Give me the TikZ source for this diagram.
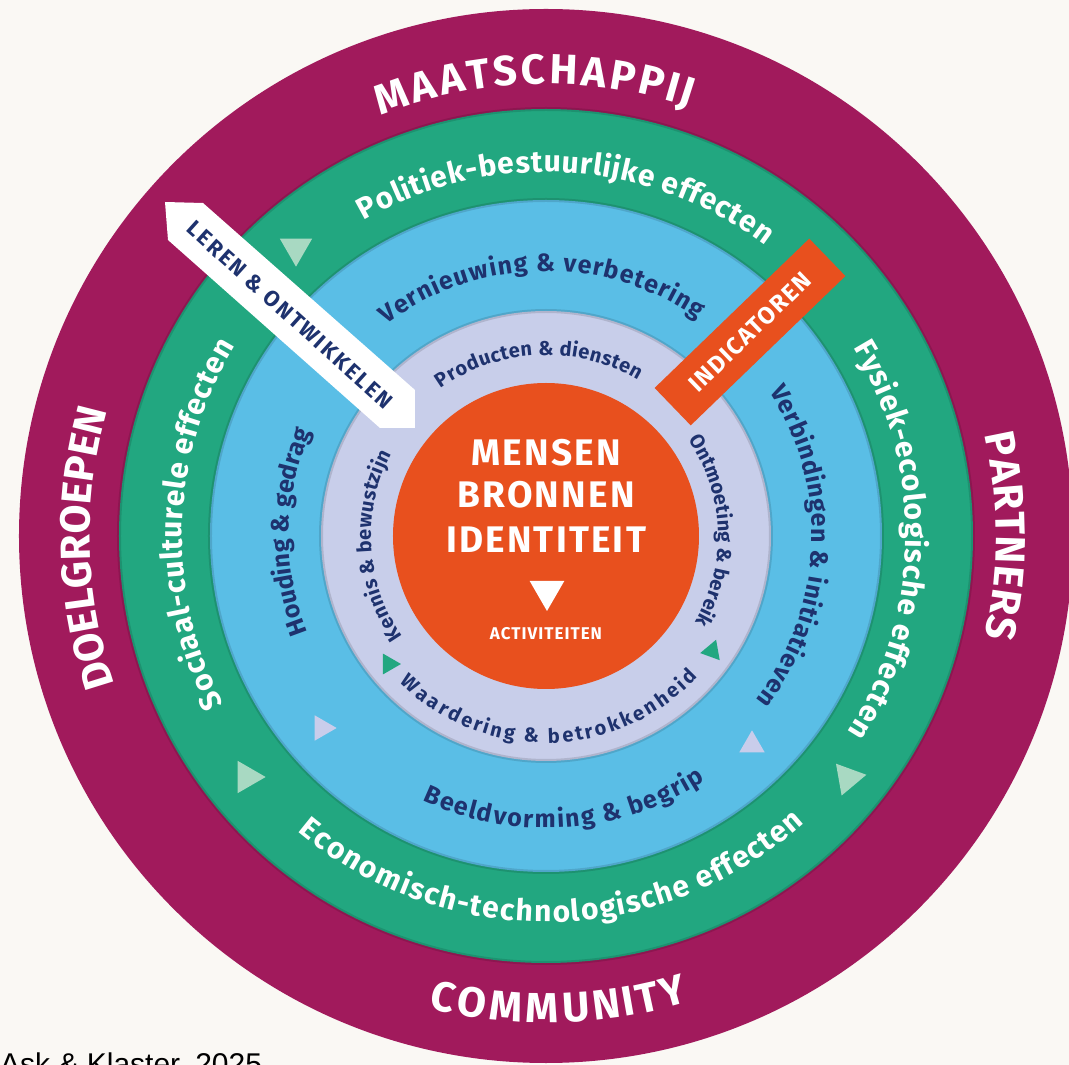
\documentclass[tikz,border=0pt]{standalone}
\usepackage{fontspec}
\setmainfont{Fira Sans}
\newfontfamily\trackfont[LetterSpace=6]{Fira Sans}
\newfontfamily\widefont[LetterSpace=10]{Fira Sans}
\newfontfamily\capfont{Liberation Sans}
\usetikzlibrary{decorations.text,shapes.geometric}

\definecolor{paper}{HTML}{FAF8F4}
\definecolor{ringmagenta}{HTML}{A11A5C}
\definecolor{ringgreen}{HTML}{22A780}
\definecolor{ringblue}{HTML}{5ABEE6}
\definecolor{ringlav}{HTML}{C8CEEA}
\definecolor{coreorange}{HTML}{E8501E}
\definecolor{navy}{HTML}{1E326E}
\definecolor{palemint}{HTML}{A8D9C2}
\definecolor{palelav}{HTML}{C9CDEB}

% text on a circle arc: radius, from, to, colour, size, text
\newcommand\ringlabel[6]{%
  \path[decorate, decoration={text effects along path, text={#6}, text align=center,
      text effects/.cd, text along path, fit text to path,
      characters={text=#4, anchor=base, inner sep=0pt, font=\bfseries\fontsize{#5}{#5}\selectfont}}]
    (#2:#1) arc[start angle=#2, end angle=#3, radius=#1];}

\tikzset{
  ringedge/.style={draw=black, opacity=.12, line width=4pt},
  tri/.style={isosceles triangle, isosceles triangle apex angle=60, inner sep=0pt, minimum height=#1, draw=none},
  coretext/.style={text=white, font=\trackfont\bfseries\fontsize{37}{40}\selectfont, inner sep=0pt}
}

\begin{document}
\begin{tikzpicture}[x=1pt, y=1pt]
\clip (-546,-529) rectangle (523,536);
\fill[paper] (-546,-529) rectangle (523,536);

% rings
\fill[ringmagenta] (0,0) circle[radius=527];
\fill[ringgreen] (0,0) circle[radius=427];
\fill[ringblue] (0,0) circle[radius=336];
\fill[ringlav] (0,0) circle[radius=225];
\foreach \r in {427,336,225}
  \draw[ringedge] (0,0) circle[radius=\r];

% small triangles
\node[tri=28, fill=palemint, rotate=-90] (tg1) at (-250,288) {};
\node[tri=28, fill=palemint] (tg2) at (-299,-241) {};
\node[tri=28, fill=palemint, rotate=10] (tg3) at (302,-242) {};
\node[tri=22, fill=palelav] (tb1) at (-224,-192) {};
\node[tri=22, fill=palelav, rotate=90] (tb2) at (206,-209) {};
\node[tri=18, fill=ringgreen] (tl1) at (-157,-128) {};
\node[tri=18, fill=ringgreen, rotate=70] (tl2) at (166,-115) {};

% outer ring
\ringlabel{452}{111.5}{71.5}{white}{42}{MAATSCHAPPIJ}
\ringlabel{456}{199}{164}{white}{42}{DOELGROEPEN}
\ringlabel{450}{13}{-13}{white}{42}{PARTNERS}
\ringlabel{487}{256}{287}{white}{42}{COMMUNITY}

% green ring
\ringlabel{364}{120}{53}{white}{30}{Politiek-bestuurlijke effecten}
\ringlabel{364}{207.5}{148.5}{white}{30}{Sociaal-culturele effecten}
\ringlabel{360}{31.5}{-33}{white}{30}{Fysiek-ecologische effecten}
\ringlabel{386}{230}{312}{white}{30}{Economisch-technologische effecten}

% blue ring
\ringlabel{265}{127}{55}{navy}{25}{Vernieuwing {\&} verbetering}
\ringlabel{257}{202}{156}{navy}{25}{Houding {\&} gedrag}
\ringlabel{266}{33}{-38}{navy}{25}{Verbindingen {\&} initiatieven}
\ringlabel{292}{245}{303}{navy}{25}{Beeldvorming {\&} begrip}

% lavender ring
\ringlabel{181}{125.5}{59.5}{navy}{20}{Producten {\&} diensten}
\ringlabel{175}{215}{152}{navy}{20}{Kennis {\&} bewustzijn}
\ringlabel{172}{34}{-30}{navy}{20}{Ontmoeting {\&} bereik}
\ringlabel{207}{225}{317}{navy}{20}{Waardering {\&} betrokkenheid}

% core
\node[circle, fill=coreorange, minimum size=306, inner sep=0pt] (core) at (0,0) {};
\node[coretext] (mensen) at (0,83) {MENSEN};
\node[coretext] (bronnen) at (0,41) {BRONNEN};
\node[coretext] (identiteit) at (0,-4) {IDENTITEIT};
\node[tri=30, fill=white, rotate=-90] (pijl) at (1,-55) {};
\node[coretext, font=\trackfont\bfseries\fontsize{17}{20}\selectfont] (activiteiten) at (0,-98) {ACTIVITEITEN};

% bands
\fill[white] (-381,334) -- (-343,333) -- (-131,146) -- (-131,108) -- (-166,108) -- (-378,296) -- cycle;
\node[rotate=-42, text=navy, font=\widefont\bfseries\fontsize{22}{24}\selectfont] (leren) at (-256,221) {LEREN \& ONTWIKKELEN};
\node[rotate=44, fill=coreorange, minimum width=215, minimum height=52, text=white,
  font=\trackfont\bfseries\fontsize{24}{26}\selectfont] (indicatoren) at (204,204) {INDICATOREN};

% source
\node[anchor=north west, inner sep=0pt, font=\capfont\fontsize{30}{34}\selectfont] (bron) at (-546,-517) {Ask \& Klaster, 2025};
\end{tikzpicture}
\end{document}
